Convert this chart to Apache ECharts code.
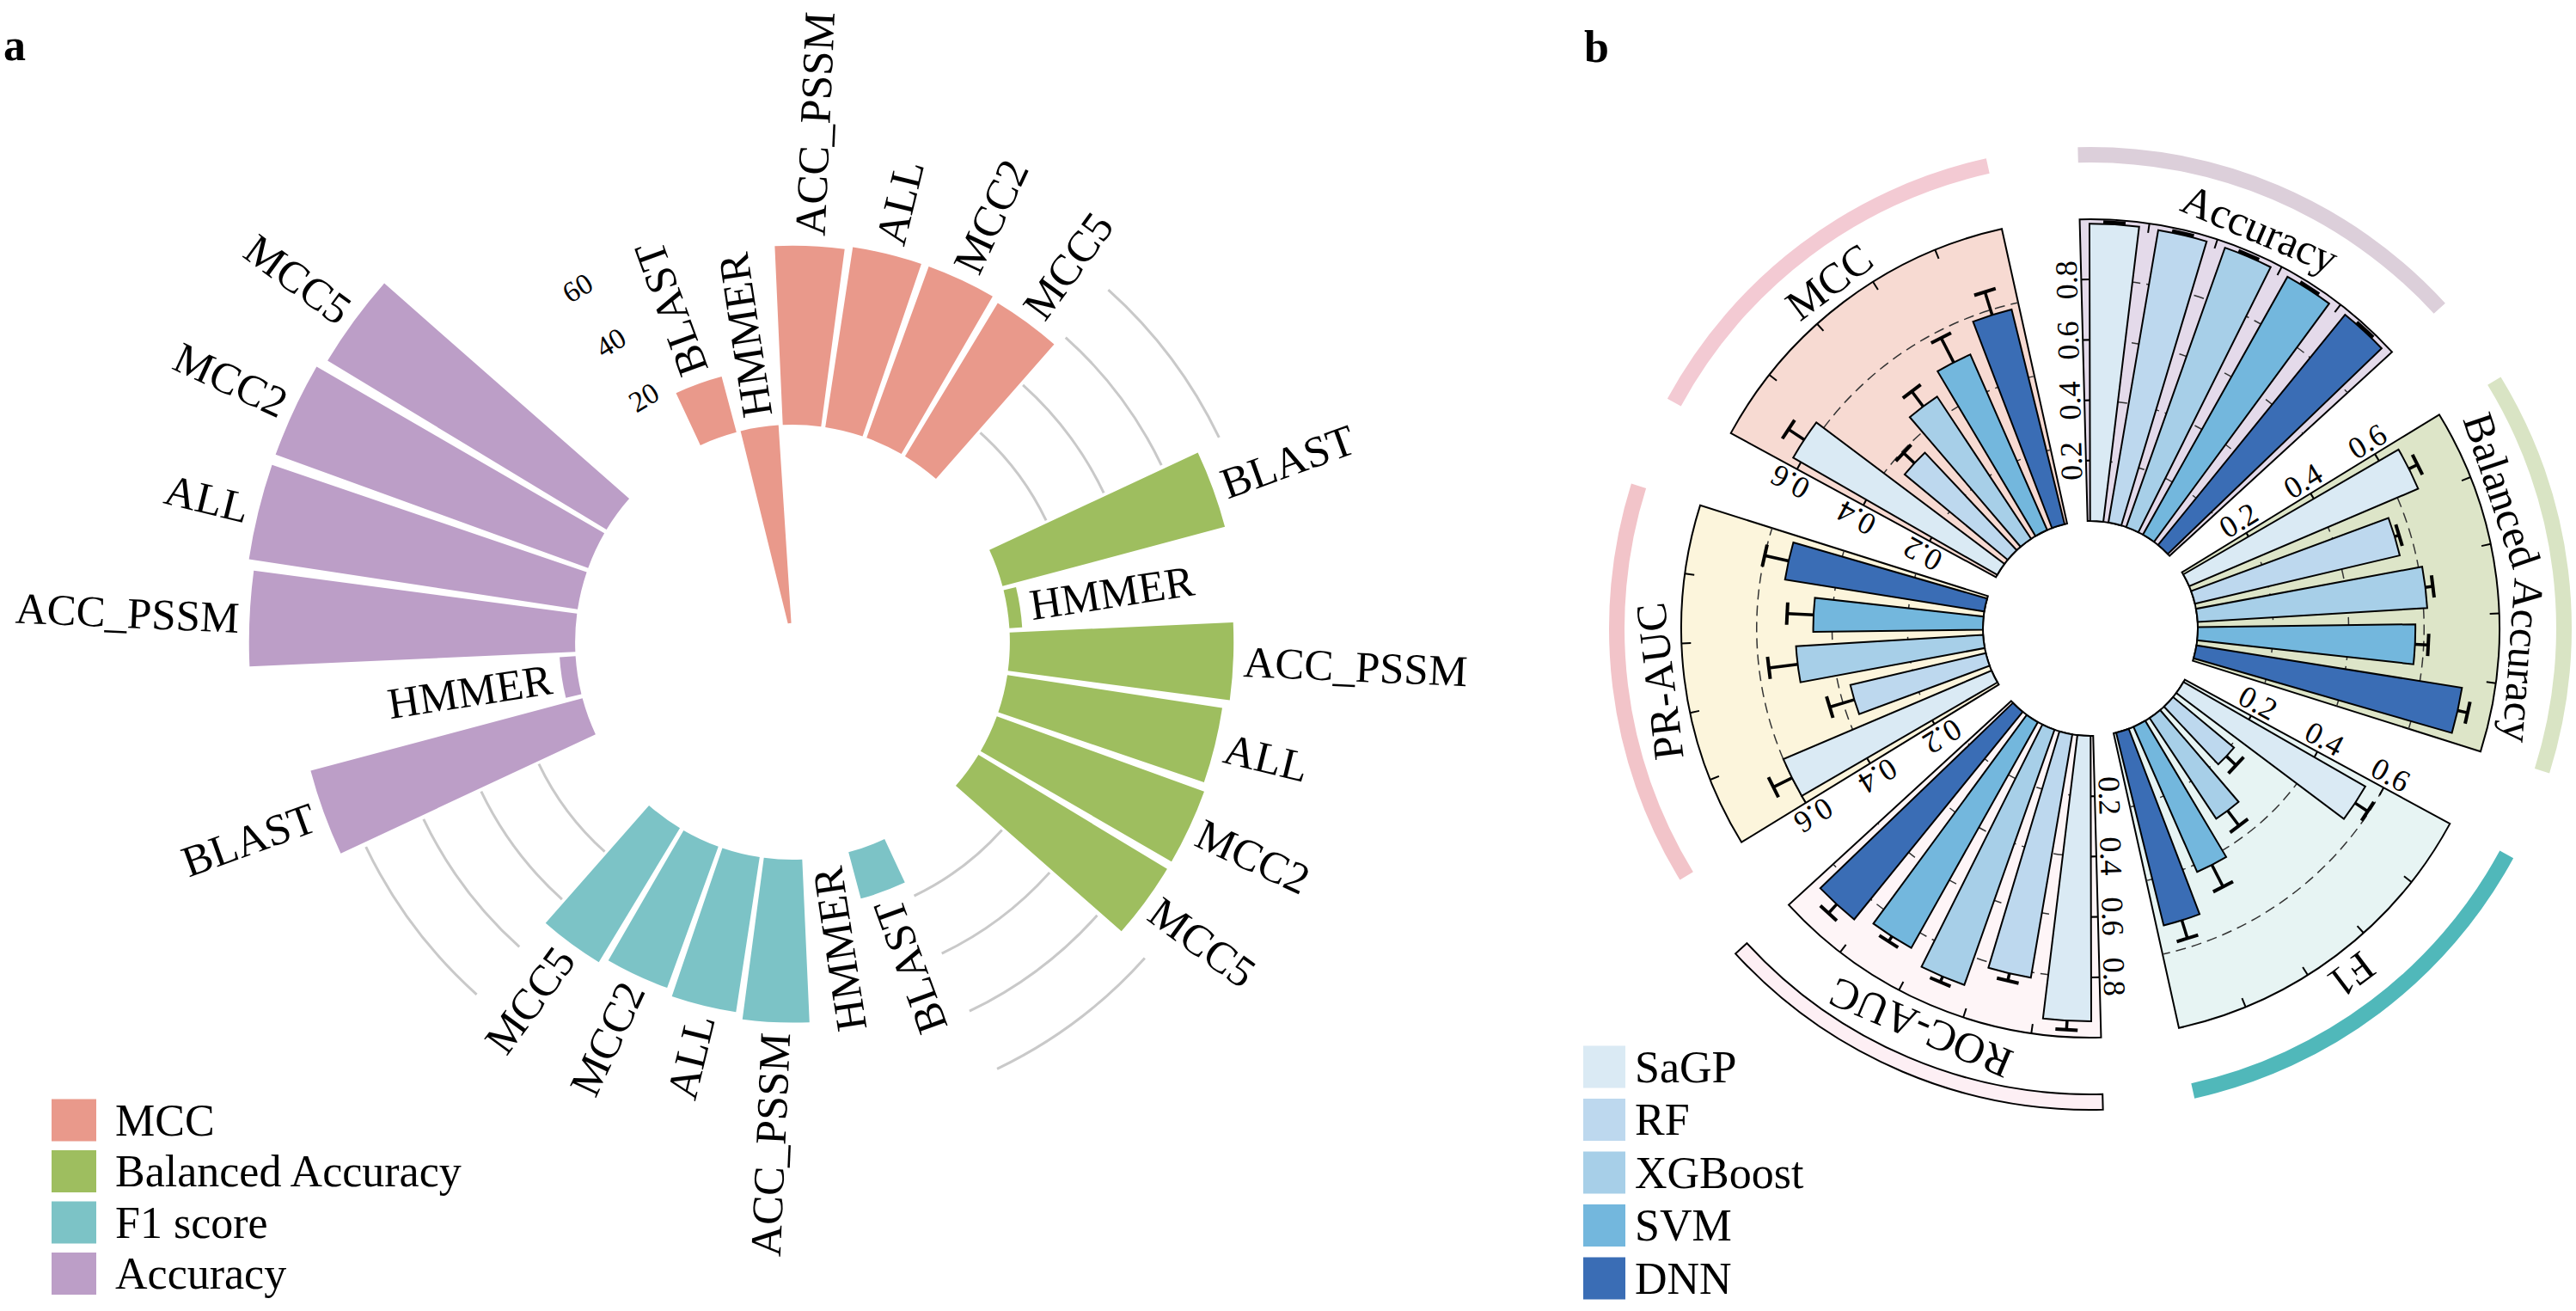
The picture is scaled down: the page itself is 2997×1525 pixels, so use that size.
<!DOCTYPE html>
<html>
<head>
<meta charset="utf-8">
<title>Circular bar charts</title>
<script src="https://cdn.jsdelivr.net/npm/echarts@6.0.0/dist/echarts.min.js"></script>
<style>
html,body{margin:0;padding:0;background:#ffffff;}
#chart{width:2997px;height:1525px;}
</style>
</head>
<body>
<div id="chart"></div>
<script>
// ================= Panel a data =================
const aGroups = ['MCC', 'Balanced Accuracy', 'F1 score', 'Accuracy'];
const aMethods = ['BLAST', 'HMMER', 'ACC_PSSM', 'ALL', 'MCC2', 'MCC5'];
const aMCC = [18, -62, 56, 57, 57, 56];
const aBalancedAccuracy = [72, 4, 70, 68, 69, 69];
const aF1 = [15, 0, 51, 49, 47, 49];
const aAccuracy = [88, 5, 102, 104, 104, 102];
const aTickLabels = ['20', '40', '60'];
const aGridValues = [20, 40, 60, 80];

// ================= Panel b data =================
const bModels = ['SaGP', 'RF', 'XGBoost', 'SVM', 'DNN'];
const bMetrics = ['Accuracy', 'Balanced Accuracy', 'F1', 'ROC-AUC', 'PR-AUC', 'MCC'];
const bAccuracy = [0.985, 0.983, 0.982, 0.980, 0.983];
const bAccuracyErr = [0.006, 0.006, 0.006, 0.006, 0.006];
const bBalancedAccuracy = [0.660, 0.558, 0.610, 0.577, 0.713];
const bBalancedAccuracyErr = [0.025, 0.012, 0.020, 0.035, 0.027];
const bF1 = [0.556, 0.210, 0.320, 0.420, 0.526];
const bF1Err = [0.040, 0.035, 0.050, 0.065, 0.050];
const bROCAUC = [0.946, 0.818, 0.897, 0.858, 0.886];
const bROCAUCErr = [0.030, 0.025, 0.020, 0.020, 0.040];
const bPRAUC = [0.600, 0.369, 0.497, 0.450, 0.535];
const bPRAUCErr = [0.055, 0.068, 0.077, 0.070, 0.065];
const bMCC = [0.624, 0.355, 0.452, 0.508, 0.586];
const bMCCErr = [0.050, 0.040, 0.050, 0.073, 0.064];
const bAxisMax = [1.0, 0.8, 0.8, 1.0, 0.8, 0.8];
const bTickLabels = [
  ['0.2', '0.4', '0.6', '0.8'],
  ['0.2', '0.4', '0.6'],
  ['0.2', '0.4', '0.6'],
  ['0.2', '0.4', '0.6', '0.8'],
  ['0.2', '0.4', '0.6'],
  ['0.2', '0.4', '0.6']
];

// ================= Styles / layout =================
const FONT = '"Liberation Serif", "Times New Roman", serif';
const aColors = ['#E9998B', '#9EBE5F', '#7CC3C6', '#BC9EC7'];
const bColors = ['#DAEAF4', '#BDD8EE', '#A7CFE8', '#73B7DD', '#3A6DB5'];
const bBgColors = ['#E4DAEA', '#DDE5C8', '#E7F4F3', '#FEF5F7', '#FCF5DC', '#F7DAD2'];
const bBandColors = ['#DCCFDA', '#D9E4C4', '#50B8BA', '#FDEFF4', '#F2C4C9', '#F3CAD3'];

const A_CENTER = [922, 747];
const A_RADIUS = 662;
const A_MIN = -68, A_MAX = 110;
const A_SLOT_START = 115.625;
const A_LABEL_OFFSET = 12;
const A_LABEL_FONT = '51px ' + FONT;

const B_CENTER = [2432, 731];
const B_R0 = 125, B_R1 = 476;
const B_STARTS = [91.5, 31.5, -28.5, -88.5, -148.5, 151.5];
const B_SPAN = 49;
const B_BAND = [542, 560];
const B_TITLE_R = 505;

const D2R = Math.PI / 180;
const mctx = document.createElement('canvas').getContext('2d');
function textWidth(t, font) { mctx.font = font; return mctx.measureText(t).width; }
function angleOf(p, cx, cy) { return Math.atan2(p[1] - cy, p[0] - cx); }
function normRad(a) { while (a <= -Math.PI) a += 2 * Math.PI; while (a > Math.PI) a -= 2 * Math.PI; return a; }

// ================= Build panel a =================
const aValues = [aMCC, aBalancedAccuracy, aF1, aAccuracy];
const aSlots = [];
aGroups.forEach((g, gi) => {
  aMethods.forEach(m => aSlots.push(g + ' ' + m));
  aSlots.push('gap' + gi + 'a', 'gap' + gi + 'b');
});

const polar = [{ center: A_CENTER, radius: [0, A_RADIUS] }];
const angleAxis = [{
  polarIndex: 0, type: 'category', data: aSlots, startAngle: A_SLOT_START, clockwise: true,
  axisLine: { show: false }, axisTick: { show: false }, axisLabel: { show: false }, splitLine: { show: false }
}];
const radiusAxis = [{
  polarIndex: 0, type: 'value', min: A_MIN, max: A_MAX,
  axisLine: { show: false }, axisTick: { show: false }, axisLabel: { show: false }, splitLine: { show: false }
}];
const series = [];

aGroups.forEach((g, gi) => {
  const data = aSlots.map((_, s) => (Math.floor(s / 8) === gi && s % 8 < 6) ? aValues[gi][s % 8] : '-');
  series.push({
    type: 'bar', name: g, coordinateSystem: 'polar', polarIndex: 0, data,
    barGap: '-100%', barCategoryGap: '10%', itemStyle: { color: aColors[gi] }, z: 2, silent: true
  });
});

// grid arcs in three gaps
const aGridItems = [];
[0, 1, 2].forEach(gi => aGridValues.forEach(v => aGridItems.push([v, gi * 8 + 6])));
series.push({
  type: 'custom', name: 'aGrid', coordinateSystem: 'polar', polarIndex: 0, silent: true, z: 1,
  data: aGridItems,
  renderItem: (params, api) => {
    const cs = params.coordSys;
    const it = aGridItems[params.dataIndex];
    const p1 = api.coord([it[0], it[1]]), p2 = api.coord([it[0], it[1] + 1]);
    const r = Math.hypot(p1[0] - cs.cx, p1[1] - cs.cy);
    const a1 = angleOf(p1, cs.cx, cs.cy);
    const d = normRad(angleOf(p2, cs.cx, cs.cy) - a1);
    return {
      type: 'arc',
      shape: { cx: cs.cx, cy: cs.cy, r, startAngle: a1 - d / 2, endAngle: a1 + 1.5 * d, clockwise: d > 0 },
      style: { stroke: '#C9C9C9', lineWidth: 3, fill: null }
    };
  }
});

// radial tick labels (20/40/60) in the last gap
const aTickItems = aTickLabels.map(t => [Number(t), 31]);
series.push({
  type: 'custom', name: 'aTicks', coordinateSystem: 'polar', polarIndex: 0, silent: true, z: 5,
  data: aTickItems,
  renderItem: (params, api) => {
    const cs = params.coordSys;
    const it = aTickItems[params.dataIndex];
    const p = api.coord([it[0], it[1]]);
    const dx = p[0] - cs.cx, dy = p[1] - cs.cy, r = Math.hypot(dx, dy);
    const th = Math.atan2(-dy, dx);
    return {
      type: 'text', x: p[0] + dx / r * 6, y: p[1] + dy / r * 6, rotation: th - Math.PI / 2,
      style: { text: aTickLabels[params.dataIndex], align: 'center', verticalAlign: 'middle', font: '34px ' + FONT, fill: '#000' }
    };
  }
});

// bar labels
const aLabelItems = [];
aGroups.forEach((g, gi) => aMethods.forEach((m, mi) => aLabelItems.push([Math.max(aValues[gi][mi], 0), gi * 8 + mi, mi])));
series.push({
  type: 'custom', name: 'aLabels', coordinateSystem: 'polar', polarIndex: 0, silent: true, z: 5,
  data: aLabelItems,
  renderItem: (params, api) => {
    const cs = params.coordSys;
    const it = aLabelItems[params.dataIndex];
    const p = api.coord([it[0], it[1]]);
    const dx = p[0] - cs.cx, dy = p[1] - cs.cy, r = Math.hypot(dx, dy);
    let t = Math.atan2(-dy, dx) / D2R;
    if (t > 127) t -= 360;
    let rot, align;
    if (t >= -53) { rot = t; align = 'left'; } else { rot = t + 180; align = 'right'; }
    return {
      type: 'text', x: p[0] + dx / r * A_LABEL_OFFSET, y: p[1] + dy / r * A_LABEL_OFFSET, rotation: rot * D2R,
      style: { text: aMethods[it[2]], align, verticalAlign: 'middle', font: A_LABEL_FONT, fill: '#000' }
    };
  }
});

// ================= Build panel b =================
const bValues = [bAccuracy, bBalancedAccuracy, bF1, bROCAUC, bPRAUC, bMCC];
const bErrors = [bAccuracyErr, bBalancedAccuracyErr, bF1Err, bROCAUCErr, bPRAUCErr, bMCCErr];

bMetrics.forEach((metric, k) => {
  const pi = k + 1;
  const s = B_STARTS[k];
  polar.push({ center: B_CENTER, radius: [B_R0, B_R1] });
  angleAxis.push({
    polarIndex: pi, type: 'category', data: bModels, startAngle: s, endAngle: s - B_SPAN, clockwise: true,
    axisLine: { show: false }, axisTick: { show: false }, axisLabel: { show: false }, splitLine: { show: false }
  });
  radiusAxis.push({
    polarIndex: pi, type: 'value', min: 0, max: bAxisMax[k],
    axisLine: { show: false }, axisTick: { show: false }, axisLabel: { show: false }, splitLine: { show: false }
  });

  // background, gridlines, ticks, labels, title, band
  series.push({
    type: 'custom', name: 'bg ' + metric, coordinateSystem: 'polar', polarIndex: pi, silent: true, z: 1,
    data: [[0, 0]],
    renderItem: (params, api) => {
      const cs = params.coordSys, cx = cs.cx, cy = cs.cy;
      const sa = -s * D2R, ea = -(s - B_SPAN) * D2R;
      const rOf = v => { const p = api.coord([v, 0]); return Math.hypot(p[0] - cx, p[1] - cy); };
      const r0 = rOf(0), r1 = rOf(bAxisMax[k]);
      const ch = [];
      ch.push({ type: 'sector', shape: { cx, cy, r0, r: r1, startAngle: sa, endAngle: ea, clockwise: true },
        style: { fill: bBgColors[k], stroke: '#000', lineWidth: 2 } });
      const tv = bTickLabels[k].map(Number);
      tv.forEach(v => {
        ch.push({ type: 'arc', shape: { cx, cy, r: rOf(v), startAngle: sa, endAngle: ea, clockwise: true },
          style: { fill: null, stroke: '#333', lineWidth: 1.5, lineDash: [12, 7] } });
      });
      const ux = Math.cos(s * D2R), uy = -Math.sin(s * D2R);
      const ox = Math.cos((s + 90) * D2R), oy = -Math.sin((s + 90) * D2R);
      tv.forEach((v, j) => {
        const r = rOf(v), px = cx + r * ux, py = cy + r * uy;
        ch.push({ type: 'line', shape: { x1: px, y1: py, x2: px - ox * 10, y2: py - oy * 10 }, style: { stroke: '#000', lineWidth: 2 } });
        ch.push({ type: 'text', x: px + ox * 17, y: py + oy * 17, rotation: s * D2R,
          style: { text: bTickLabels[k][j], align: 'center', verticalAlign: 'middle', font: '36px ' + FONT, fill: '#000' } });
      });
      // outer ticks at category boundaries
      const angs = bModels.map((_, m) => angleOf(api.coord([bAxisMax[k], m]), cx, cy));
      for (let m = 0; m < angs.length - 1; m++) {
        const a = angs[m] + normRad(angs[m + 1] - angs[m]) / 2;
        const c = Math.cos(a), sn = Math.sin(a);
        ch.push({ type: 'line', shape: { x1: cx + r1 * c, y1: cy + r1 * sn, x2: cx + (r1 - 11) * c, y2: cy + (r1 - 11) * sn },
          style: { stroke: '#000', lineWidth: 2 } });
      }
      // outer band
      ch.push({ type: 'sector', shape: { cx, cy, r0: B_BAND[0], r: B_BAND[1], startAngle: sa, endAngle: ea, clockwise: true },
        style: { fill: bBandColors[k], stroke: metric === 'ROC-AUC' ? '#000' : null, lineWidth: 2 } });
      // title words along the arc
      const tFont = '50px ' + FONT;
      const words = metric.split(' ');
      const ws = words.map(w => textWidth(w, tFont));
      const sp = textWidth(' ', tFont);
      const total = ws.reduce((a, b) => a + b, 0) + sp * (words.length - 1);
      const mid = s - B_SPAN / 2;
      let cur = mid * D2R + total / 2 / B_TITLE_R;
      words.forEach((w, j) => {
        const a = cur - ws[j] / 2 / B_TITLE_R;
        ch.push({ type: 'text', x: cx + B_TITLE_R * Math.cos(a), y: cy - B_TITLE_R * Math.sin(a), rotation: a - Math.PI / 2,
          style: { text: w, align: 'center', verticalAlign: 'middle', font: tFont, fill: '#000' } });
        cur -= (ws[j] + sp) / B_TITLE_R;
      });
      return { type: 'group', children: ch };
    }
  });

  // bars: one series per model
  bModels.forEach((model, m) => {
    series.push({
      type: 'bar', name: model, coordinateSystem: 'polar', polarIndex: pi,
      data: bModels.map((_, j) => j === m ? bValues[k][m] : '-'),
      barGap: '-100%', barCategoryGap: '28%', z: 2, silent: true,
      itemStyle: { color: bColors[m], borderColor: '#000', borderWidth: 2 }
    });
  });

  // error bars
  series.push({
    type: 'custom', name: 'err ' + metric, coordinateSystem: 'polar', polarIndex: pi, silent: true, z: 3,
    data: bModels.map((_, m) => [bValues[k][m], m]),
    renderItem: (params, api) => {
      const cs = params.coordSys, m = params.dataIndex;
      const v = bValues[k][m], e = bErrors[k][m];
      const p1 = api.coord([v, m]), p2 = api.coord([v + e, m]);
      const dx = p2[0] - cs.cx, dy = p2[1] - cs.cy, r = Math.hypot(dx, dy);
      const nx = -dy / r, ny = dx / r, h = 13;
      return { type: 'group', children: [
        { type: 'line', shape: { x1: p1[0], y1: p1[1], x2: p2[0], y2: p2[1] }, style: { stroke: '#000', lineWidth: 3.5 } },
        { type: 'line', shape: { x1: p2[0] - nx * h, y1: p2[1] - ny * h, x2: p2[0] + nx * h, y2: p2[1] + ny * h }, style: { stroke: '#000', lineWidth: 4 } }
      ] };
    }
  });
});

const option = {
  animation: false,
  backgroundColor: '#ffffff',
  textStyle: { fontFamily: FONT },
  polar, angleAxis, radiusAxis, series,
  legend: [
    {
      data: aGroups, orient: 'vertical', left: 60, top: 1277, padding: 0, height: 400,
      itemWidth: 52, itemHeight: 49, itemGap: 7.5, icon: 'rect', selectedMode: false,
      itemStyle: { borderWidth: 0 },
      textStyle: { fontFamily: FONT, fontSize: 52, color: '#000', padding: [0, 0, 0, 17] }
    },
    {
      data: bModels, orient: 'vertical', left: 1842, top: 1215, padding: 0, height: 400,
      itemWidth: 49, itemHeight: 49, itemGap: 9.5, icon: 'rect', selectedMode: false,
      itemStyle: { borderWidth: 0 },
      textStyle: { fontFamily: FONT, fontSize: 52, color: '#000', padding: [0, 0, 0, 6] }
    }
  ],
  graphic: [
    { type: 'text', x: 4, y: 78, style: { text: 'a', font: 'bold 52px ' + FONT, fill: '#000', verticalAlign: 'bottom' } },
    { type: 'text', x: 1843, y: 80, style: { text: 'b', font: 'bold 52px ' + FONT, fill: '#000', verticalAlign: 'bottom' } }
  ]
};

const chart = echarts.init(document.getElementById('chart'), null, { renderer: 'svg', width: 2997, height: 1525 });
chart.setOption(option);
</script>
</body>
</html>
